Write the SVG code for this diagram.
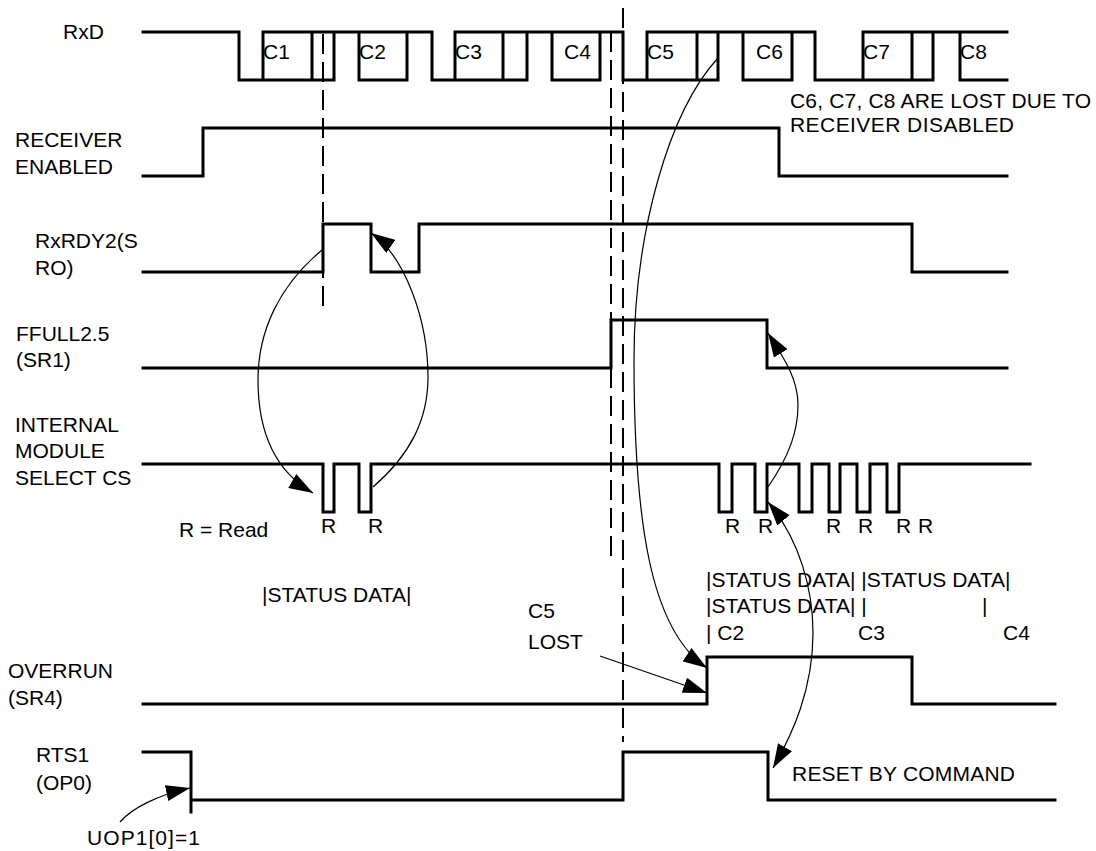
<svg xmlns="http://www.w3.org/2000/svg" width="1096" height="851" viewBox="0 0 1096 851">
<defs>
<style>
.bg{fill:#ffffff}
.sig{fill:none;stroke:#000;stroke-width:3;stroke-linecap:square;stroke-linejoin:miter}
.dash{fill:none;stroke:#000;stroke-width:2;stroke-dasharray:20 8}
.conn{fill:none;stroke:#000;stroke-width:1.2}
text{font-family:"Liberation Sans",Arial,Helvetica,sans-serif;font-size:21px;fill:#000}
.sd{font-size:21px}
</style>
<marker id="ah" markerUnits="userSpaceOnUse" markerWidth="24" markerHeight="16" refX="24" refY="8" orient="auto">
<path d="M0,0 L24,8 L0,16 z" fill="#000"/>
</marker>
<marker id="ahs" markerUnits="userSpaceOnUse" markerWidth="24" markerHeight="16" refX="0" refY="8" orient="auto">
<path d="M24,0 L0,8 L24,16 z" fill="#000"/>
</marker>
</defs>
<rect class="bg" x="0" y="0" width="1096" height="851"/>

<g id="guides">
<line class="dash" x1="323" y1="34" x2="323" y2="308"/>
<line class="dash" x1="611" y1="32" x2="611" y2="562"/>
<line class="dash" x1="623" y1="8" x2="623" y2="742"/>
</g>

<g id="rxd">
<text x="63" y="39">RxD</text>
<path class="sig" d="M143,32 H239 M263,32 H432 M455,32 H623 M647,32 H815 M863,32 H1007 M239,80 H334 M359,80 H407 M432,80 H527 M552,80 H600 M623,80 H718 M743,80 H792 M815,80 H933 M960,80 H1007 M239,32 V80 M263,32 V80 M312,32 V80 M334,32 V80 M359,32 V80 M407,32 V80 M432,32 V80 M455,32 V80 M503,32 V80 M527,32 V80 M552,32 V80 M600,32 V80 M623,32 V80 M647,32 V80 M697,32 V80 M718,32 V80 M743,32 V80 M792,32 V80 M815,32 V80 M863,32 V80 M912,32 V80 M933,32 V80 M960,32 V80"/>
<text x="263" y="59">C1</text>
<text x="359" y="59">C2</text>
<text x="455" y="59">C3</text>
<text x="564" y="59">C4</text>
<text x="647" y="59">C5</text>
<text x="756" y="59">C6</text>
<text x="863" y="59">C7</text>
<text x="960" y="59">C8</text>
</g>

<g id="receiver-enabled">
<text x="15" y="147">RECEIVER</text>
<text x="15" y="174">ENABLED</text>
<path class="sig" d="M143,176 H203 V128 H779 V176 H1007"/>
</g>

<g id="rxrdy">
<text x="35" y="248">RxRDY2(S</text>
<text x="35" y="275">RO)</text>
<path class="sig" d="M143,272 H323 V224 H371 V272 H419 V224 H912 V272 H1007"/>
</g>

<g id="ffull">
<text x="16" y="341">FFULL2.5</text>
<text x="16" y="367">(SR1)</text>
<path class="sig" d="M143,368 H611 V320 H767 V368 H1007"/>
</g>

<g id="cs">
<text x="15" y="432">INTERNAL</text>
<text x="15" y="458">MODULE</text>
<text x="15" y="485">SELECT CS</text>
<path class="sig" d="M143,464 H323 V512 H334 V464 H359 V512 H371 V464 H719 V512 H732 V464 H755 V512 H767 V464 H799 V512 H812 V464 H829 V512 H840 V464 H857 V512 H870 V464 H887 V512 H899 V464 H1030"/>
<text x="321" y="533">R</text>
<text x="368" y="533">R</text>
<text x="725" y="533">R</text>
<text x="758" y="533">R</text>
<text x="826" y="533">R</text>
<text x="858" y="533">R</text>
<text x="896" y="533">R</text>
<text x="918" y="533">R</text>
</g>

<g id="overrun">
<text x="8" y="678">OVERRUN</text>
<text x="8" y="705">(SR4)</text>
<path class="sig" d="M143,704 H707 V657 H912 V704 H1055"/>
</g>

<g id="rts">
<text x="36" y="762">RTS1</text>
<text x="36" y="790">(OP0)</text>
<path class="sig" d="M143,752 H191 V812 M191,800 H623 V752 H768 V800 H1055"/>
</g>

<g id="notes">
<text x="790" y="108" textLength="301">C6, C7, C8 ARE LOST DUE TO</text>
<text x="790" y="132" textLength="224">RECEIVER DISABLED</text>
<text x="179" y="537">R = Read</text>
<text class="sd" x="262" y="602">|STATUS DATA|</text>
<text class="sd" x="706" y="587">|STATUS DATA| |STATUS DATA|</text>
<text class="sd" x="706" y="613">|STATUS DATA| |</text>
<text class="sd" x="982" y="613">|</text>
<text class="sd" x="706" y="640">| C2</text>
<text class="sd" x="858" y="640">C3</text>
<text class="sd" x="1003" y="640">C4</text>
<text x="528" y="618">C5</text>
<text x="528" y="649">LOST</text>
<text x="792" y="781" textLength="223">RESET BY COMMAND</text>
<text x="87" y="845" textLength="113">UOP1[0]=1</text>
</g>

<g id="connectors">
<path class="conn" marker-end="url(#ah)" d="M322,250 C280,285 258,330 258,380 C258,440 280,474 313,493"/>
<path class="conn" marker-end="url(#ah)" d="M373,487 C410,455 428,420 428,377 C428,320 405,256 371,233"/>
<path class="conn" marker-end="url(#ah)" d="M718,58 C670,110 634,230 634,360 C634,520 650,630 707,668"/>
<path class="conn" marker-end="url(#ah)" d="M600,656 L707,693"/>
<path class="conn" marker-end="url(#ah)" d="M768,487 C790,455 798,430 798,405 C798,378 783,357 768,333"/>
<path class="conn" marker-start="url(#ahs)" marker-end="url(#ah)" d="M768,502 C800,540 813,590 813,633 C813,690 792,735 773,768"/>
<path class="conn" marker-end="url(#ah)" d="M120,822 C132,808 158,795 190,788"/>
</g>
</svg>
